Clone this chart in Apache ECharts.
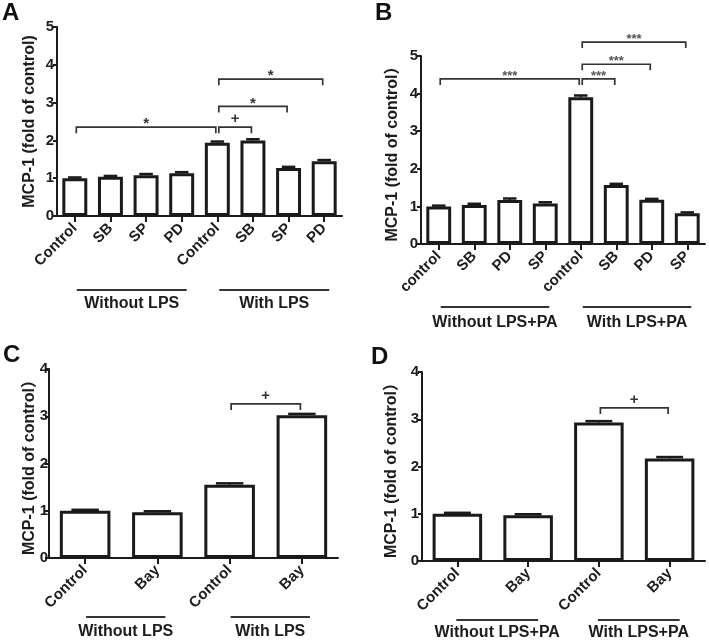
<!DOCTYPE html>
<html>
<head>
<meta charset="utf-8">
<script src="https://cdn.jsdelivr.net/npm/echarts@6/dist/echarts.min.js"></script>
<style>
  html, body { margin: 0; padding: 0; background: #fff; }
  #main { width: 709px; height: 642px; }
</style>
</head>
<body>
<div id="main"></div>
<script>
// panel A
const catsA = ['Control', 'SB', 'SP', 'PD', 'Control', 'SB', 'SP', 'PD'];
const valsA = [1.00, 1.04, 1.08, 1.13, 1.94, 2.00, 1.27, 1.45];
const errA = [0.02, 0.02, 0.03, 0.03, 0.03, 0.03, 0.03, 0.03];
const sigA = [[0, 4, 2.35, '*'], [4, 5, 2.35, '+'], [4, 6, 2.9, '*'], [4, 7, 3.62, '*']];
const groupsA = [[0, 3, 'Without LPS'], [4, 7, 'With LPS']];

// panel B
const catsB = ['control', 'SB', 'PD', 'SP', 'control', 'SB', 'PD', 'SP'];
const valsB = [1.00, 1.04, 1.17, 1.08, 3.90, 1.57, 1.18, 0.82];
const errB = [0.02, 0.03, 0.04, 0.03, 0.05, 0.03, 0.02, 0.02];
const sigB = [[0, 4, 4.39, '***'], [4, 5, 4.39, '***'], [4, 6, 4.78, '***'], [4, 7, 5.37, '***']];
const groupsB = [[0, 3, 'Without LPS+PA'], [4, 7, 'With LPS+PA']];

// panel C
const catsC = ['Control', 'Bay', 'Control', 'Bay'];
const valsC = [1.00, 0.97, 1.55, 3.02];
const errC = [0.02, 0.02, 0.03, 0.03];
const sigC = [[2, 3, 3.26, '+']];
const groupsC = [[0, 1, 'Without LPS'], [2, 3, 'With LPS']];

// panel D
const catsD = ['Control', 'Bay', 'Control', 'Bay'];
const valsD = [1.00, 0.97, 2.93, 2.17];
const errD = [0.02, 0.02, 0.03, 0.03];
const sigD = [[2, 3, 3.24, '+']];
const groupsD = [[0, 1, 'Without LPS+PA'], [2, 3, 'With LPS+PA']];

const yName = ['MCP-1 (fold of control)', 'MCP-1 (fold of control\uFF09', 'MCP-1 (fold of control\uFF09', 'MCP-1 (fold of control\uFF09'];
const yMax = [5, 5, 4, 4];

const FONT = "'Liberation Sans', Arial, 'Noto Sans CJK SC', sans-serif";
const INK = '#1c1c1c';

const panels = [
  { cats: catsA, vals: valsA, err: errA, sig: sigA, groups: groupsA, grid: { left: 57, top: 27, width: 285, height: 189 }, nameGap: 19, labelMargin: 3, lineOff: 74, textOff: 88, padL: 2, padR: 5 },
  { cats: catsB, vals: valsB, err: errB, sig: sigB, groups: groupsB, grid: { left: 421, top: 56, width: 284, height: 188 }, nameGap: 20, labelMargin: 3, lineOff: 63, textOff: 79, padL: 2, padR: 4 },
  { cats: catsC, vals: valsC, err: errC, sig: sigC, groups: groupsC, grid: { left: 49, top: 369, width: 289, height: 189 }, nameGap: 11, labelMargin: 1, lineOff: 59, textOff: 74, padL: 1, padR: 8 },
  { cats: catsD, vals: valsD, err: errD, sig: sigD, groups: groupsD, grid: { left: 422, top: 372, width: 283, height: 189 }, nameGap: 22, labelMargin: 3, lineOff: 59, textOff: 72, padL: -1, padR: 10 }
];

function bracketSeries(i, sig) {
  return {
    type: 'custom',
    xAxisIndex: i,
    yAxisIndex: i,
    silent: true,
    clip: false,
    z: 5,
    data: sig.map(s => [s[0], s[1], s[2]]),
    renderItem: function (params, api) {
      const s = sig[params.dataIndex];
      const a = api.coord([s[0], s[2]]);
      const b = api.coord([s[1], s[2]]);
      const x0 = a[0] + 1.5, x1 = b[0] - 1.5, y = a[1];
      const isStar = s[3].indexOf('*') >= 0;
      return {
        type: 'group',
        children: [
          {
            type: 'polyline',
            shape: { points: [[x0, y + 6], [x0, y], [x1, y], [x1, y + 6]] },
            style: { stroke: '#333', lineWidth: 1.7, fill: null }
          },
          {
            type: 'text',
            style: {
              x: (x0 + x1) / 2,
              y: isStar ? y - 3 : y - 8,
              text: s[3],
              align: 'center',
              verticalAlign: 'middle',
              font: (s[3] === '***' ? 'bold 13px ' : 'bold 15px ') + FONT,
              fill: s[3] === '***' ? '#555' : '#333'
            }
          }
        ]
      };
    }
  };
}

function errorSeries(i, vals, err) {
  return {
    type: 'custom',
    xAxisIndex: i,
    yAxisIndex: i,
    silent: true,
    z: 4,
    data: vals.map((v, k) => [k, v, err[k]]),
    renderItem: function (params, api) {
      const base = api.coord([api.value(0), api.value(1)]);
      const top = api.coord([api.value(0), api.value(1) + api.value(2)]);
      const half = api.size([1, 0])[0] * 0.19;
      return {
        type: 'group',
        children: [
          { type: 'line', shape: { x1: base[0], y1: base[1], x2: top[0], y2: top[1] }, style: { stroke: '#1a1a1a', lineWidth: 2 } },
          { type: 'line', shape: { x1: top[0] - half, y1: top[1], x2: top[0] + half, y2: top[1] }, style: { stroke: '#1a1a1a', lineWidth: 2.5 } }
        ]
      };
    }
  };
}

function groupSeries(i, p) {
  return {
    type: 'custom',
    xAxisIndex: i,
    yAxisIndex: i,
    silent: true,
    clip: false,
    data: p.groups.map(g => [g[0], g[1]]),
    renderItem: function (params, api) {
      const g = p.groups[params.dataIndex];
      const a = api.coord([g[0], 0]);
      const b = api.coord([g[1], 0]);
      const x0 = a[0] + p.padL, x1 = b[0] + p.padR;
      return {
        type: 'group',
        children: [
          { type: 'line', shape: { x1: x0, y1: a[1] + p.lineOff, x2: x1, y2: a[1] + p.lineOff }, style: { stroke: '#333', lineWidth: 2 } },
          {
            type: 'text',
            style: {
              x: (x0 + x1) / 2, y: a[1] + p.textOff,
              text: g[2], align: 'center', verticalAlign: 'middle',
              font: 'bold 16px ' + FONT, fill: INK
            }
          }
        ]
      };
    }
  };
}

const grids = [], xAxes = [], yAxes = [], series = [];
panels.forEach((p, i) => {
  grids.push(p.grid);
  xAxes.push({
    type: 'category',
    gridIndex: i,
    data: p.cats,
    axisLine: { show: true, lineStyle: { color: INK, width: 2 } },
    axisTick: { show: true, alignWithLabel: true, length: 6, lineStyle: { color: INK, width: 2 } },
    axisLabel: { interval: 0, rotate: 45, margin: 10, color: INK, fontFamily: FONT, fontWeight: 'bold', fontSize: 15 },
    splitLine: { show: false }
  });
  yAxes.push({
    type: 'value',
    gridIndex: i,
    min: 0,
    max: yMax[i],
    interval: 1,
    name: yName[i],
    nameLocation: 'middle',
    nameRotate: 90,
    nameGap: p.nameGap,
    nameMoveOverlap: false,
    nameTextStyle: { color: INK, fontFamily: FONT, fontWeight: 'bold', fontSize: 16 },
    axisLine: { show: true, lineStyle: { color: INK, width: 2 } },
    axisTick: { show: true, length: 4, lineStyle: { color: INK, width: 2 } },
    axisLabel: { margin: p.labelMargin, color: INK, fontFamily: FONT, fontWeight: 'bold', fontSize: 15 },
    splitLine: { show: false }
  });
  series.push({
    type: 'bar',
    xAxisIndex: i,
    yAxisIndex: i,
    barWidth: '70%',
    silent: true,
    itemStyle: { color: '#fff', borderColor: '#1a1a1a', borderWidth: 3 },
    data: p.vals
  });
  series.push(errorSeries(i, p.vals, p.err));
  series.push(bracketSeries(i, p.sig));
  series.push(groupSeries(i, p));
});

const letterStyle = { font: 'bold 24px ' + FONT, fill: '#111' };
const chart = echarts.init(document.getElementById('main'), null, { renderer: 'canvas' });
chart.setOption({
  animation: false,
  backgroundColor: '#fff',
  grid: grids,
  xAxis: xAxes,
  yAxis: yAxes,
  series: series,
  graphic: [
    { type: 'text', left: 2, top: 1, style: Object.assign({ text: 'A' }, letterStyle) },
    { type: 'text', left: 375, top: 1, style: Object.assign({ text: 'B' }, letterStyle) },
    { type: 'text', left: 3, top: 343, style: Object.assign({ text: 'C' }, letterStyle) },
    { type: 'text', left: 371, top: 345, style: Object.assign({ text: 'D' }, letterStyle) }
  ]
});
</script>
</body>
</html>
